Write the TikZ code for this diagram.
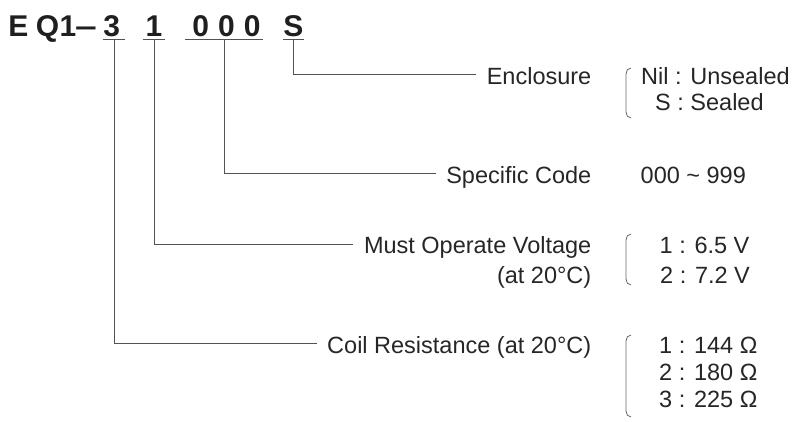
\documentclass[tikz,border=0pt]{standalone}
\usepackage{fontspec}
\setmainfont{Liberation Sans}

\begin{document}
\begin{tikzpicture}[x=1pt, y=-1pt,
  code/.style={font=\fontsize{30}{30}\selectfont\bfseries, text=black!88, anchor=base, inner sep=0pt},
  codeline/.style={code, inner ysep=2.7pt},
  field/.style={font=\fontsize{23.5}{27}\selectfont, text=black!85, anchor=base east, inner sep=0pt},
  choice/.style={font=\fontsize{23.5}{27}\selectfont, text=black!85, anchor=base west, inner sep=0pt},
  leader/.style={draw=black!68, line width=0.9pt},
  bracket/.style={draw=black!60, line width=0.8pt}]
  \useasboundingbox (0,0) rectangle (800,421);

  % part number
  \node[code] (cE) at (18.3,36.7) {E};
  \node[code] (cQ) at (47.5,36.7) {Q};
  \node[code] (cOne) at (68,36.7) {1};
  \node[code] (cDash) at (86,36.7) {\scalebox{1.3}[1]{\textendash}};
  \node[codeline, minimum width=22pt] (d3) at (114,36.7) {3\hspace*{4.6pt}};
  \node[codeline, minimum width=22pt] (d1) at (154,36.7) {1};
  \node[codeline, minimum width=78pt] (d000) at (224,36.7) {\hspace*{5pt}0\hspace{9pt}0\hspace{9pt}0};
  \node[codeline, minimum width=21pt] (dS) at (293.5,36.7) {S};

  \draw[leader] (d3.south west) -- (d3.south east);
  \draw[leader] (d1.south west) -- (d1.south east);
  \draw[leader] (d000.south west) -- (d000.south east);
  \draw[leader] (dS.south west) -- (dS.south east);

  % fields
  \node[field] (encl) at (591.5,84) {Enclosure};
  \node[field] (spec) at (591.5,183) {Specific Code};
  \node[field] (must) at (591.5,253.5) {Must Operate Voltage};
  \node[field] (mustnote) at (591.5,283) {(at 20°C)};
  \node[field] (coil) at (591.5,353.3) {Coil Resistance (at 20°C)};

  \draw[leader] (dS.south) |- ([shift={(-10.5pt,9.5pt)}]encl.base west);
  \draw[leader] (d000.south) |- ([shift={(-10.5pt,9.8pt)}]spec.base west);
  \draw[leader] (d1.south) |- ([shift={(-10.5pt,9.5pt)}]must.base west);
  \draw[leader] (d3.south) |- ([shift={(-10.5pt,10pt)}]coil.base west);

  % choices
  \draw[bracket] (631,68) to[out=180, in=90] (626,74) -- (626,112) to[out=-90, in=180] (631,118);
  \node[choice] (nil) at (641,84) {Nil : Unsealed};
  \node[choice] (sealed) at (655,110.5) {S : Sealed};

  \node[choice] (range) at (640.5,183) {000 \textasciitilde{} 999};

  \draw[bracket] (631,234) to[out=180, in=90] (626,240) -- (626,279) to[out=-90, in=180] (631,285);
  \node[choice] (v1) at (659.5,253.5) {1 : 6.5 V};
  \node[choice] (v2) at (660,283) {2 : 7.2 V};

  \draw[bracket] (631,335) to[out=180, in=90] (626,341) -- (626,411) to[out=-90, in=180] (631,417);
  \node[choice] (r1) at (659,353.3) {1 : 144 Ω};
  \node[choice] (r2) at (659,380) {2 : 180 Ω};
  \node[choice] (r3) at (659,407) {3 : 225 Ω};

\end{tikzpicture}
\end{document}
